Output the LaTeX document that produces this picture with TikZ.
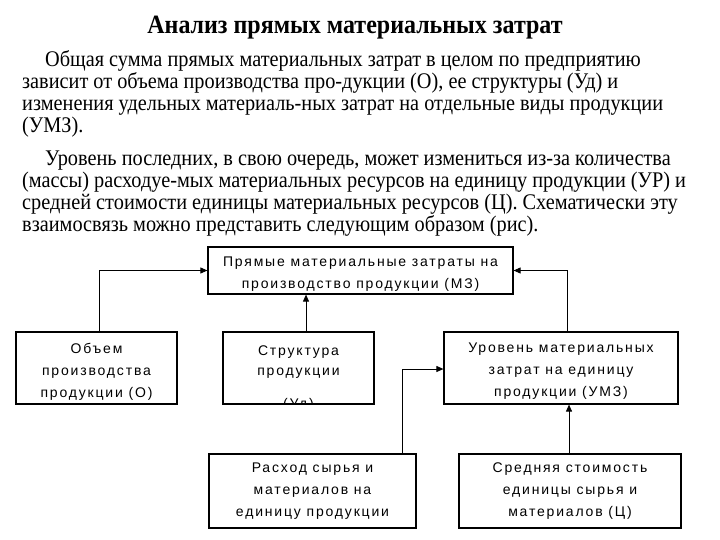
\documentclass[tikz,border=0pt]{standalone}
\usepackage{fontspec}
\setmainfont{Liberation Serif}
\newfontfamily\boxfont{Liberation Sans}[LetterSpace=13]
\usetikzlibrary{arrows.meta}
\newcommand{\tall}[1]{\scalebox{1}[1.1]{#1}}
\tikzset{
  txt/.style={anchor=base west, inner sep=0pt, font=\fontsize{20.3}{24}\selectfont},
  box/.style={draw, line width=1.2pt, inner sep=0pt},
  thick box/.style={box, line width=1.8pt},
  boxtext/.style={inner sep=0pt, align=center, font=\boxfont\fontsize{14}{22}\selectfont},
  arr/.style={line width=0.9pt, -{Triangle[length=7pt,width=6pt]}},
}
\begin{document}
\begin{tikzpicture}[x=1pt,y=-1pt]
\useasboundingbox[fill=white] (0,0) rectangle (720,540);
% title
\node[anchor=base, inner sep=0pt, font=\bfseries\fontsize{24}{26}\selectfont] (title) at (355,34) {\tall{Анализ прямых материальных затрат}};
% paragraph lines
\node[txt] (l1) at (45,67) {\tall{Общая сумма прямых материальных затрат в целом по предприятию}};
\node[txt] (l2) at (22,89) {\tall{зависит от объема производства про-дукции (О), ее структуры (Уд) и}};
\node[txt] (l3) at (22,111) {\tall{изменения удельных материаль-ных затрат на отдельные виды продукции}};
\node[txt] (l4) at (22,133) {\tall{(УМЗ).}};
\node[txt] (l5) at (45,166) {\tall{Уровень последних, в свою очередь, может измениться из-за количества}};
\node[txt] (l6) at (22,188) {\tall{(массы) расходуе-мых материальных ресурсов на единицу продукции (УР) и}};
\node[txt] (l7) at (22,210) {\tall{средней стоимости единицы материальных ресурсов (Ц). Схематически эту}};
\node[txt] (l8) at (22,232) {\tall{взаимосвязь можно представить следующим образом (рис).}};
% boxes
\node[box, minimum width=305pt, minimum height=47pt] (mz) at (360.5,270.5) {};
\node[boxtext] (mzt) at ([yshift=-4pt]mz.center) {Прямые материальные затраты на\\производство продукции (МЗ)};
\node[box, minimum width=161pt, minimum height=72pt] (o) at (96.5,368) {};
\node[boxtext] (ot) at ([yshift=-4pt]o.center) {Объем\\производства\\продукции (О)};
\node[box, minimum width=151pt, minimum height=72pt] (st) at (298.5,368) {};
\node[boxtext, anchor=base, font=\boxfont\fontsize{14}{20}\selectfont] (stt) at (298.5,375) {Структура\\продукции};
\begin{scope}
  \clip (223.6,332.6) rectangle (373.4,402.4);
  \node[boxtext, anchor=base] (stt3) at (298.5,408) {(Уд)};
\end{scope}
\node[box, minimum width=234pt, minimum height=72pt] (umz) at (561,368) {};
\node[boxtext] (umzt) at ([yshift=-3.5pt]umz.center) {Уровень материальных\\затрат на единицу\\продукции (УМЗ)};
\node[thick box, minimum width=207pt, minimum height=74pt] (rs) at (312.5,491) {};
\node[boxtext] (rst) at (rs.center) {Расход сырья и\\материалов на\\единицу продукции};
\node[thick box, minimum width=222pt, minimum height=74pt] (sr) at (570,491) {};
\node[boxtext] (srt) at (sr.center) {Средняя стоимость\\единицы сырья и\\материалов (Ц)};
% connectors
\draw[arr] ([xshift=2.5pt]o.north) |- (mz.west);
\draw[arr] ([xshift=7.5pt]st.north) -- ([xshift=7.5pt]st.north |- mz.south);
\draw[arr] ([xshift=6pt]umz.north) |- (mz.east);
\draw[arr] ([xshift=89.5pt]rs.north) |- ([yshift=-1pt]umz.west);
\draw[arr] ([xshift=-1pt]sr.north) -- ([xshift=-1pt]sr.north |- umz.south);
\end{tikzpicture}
\end{document}
